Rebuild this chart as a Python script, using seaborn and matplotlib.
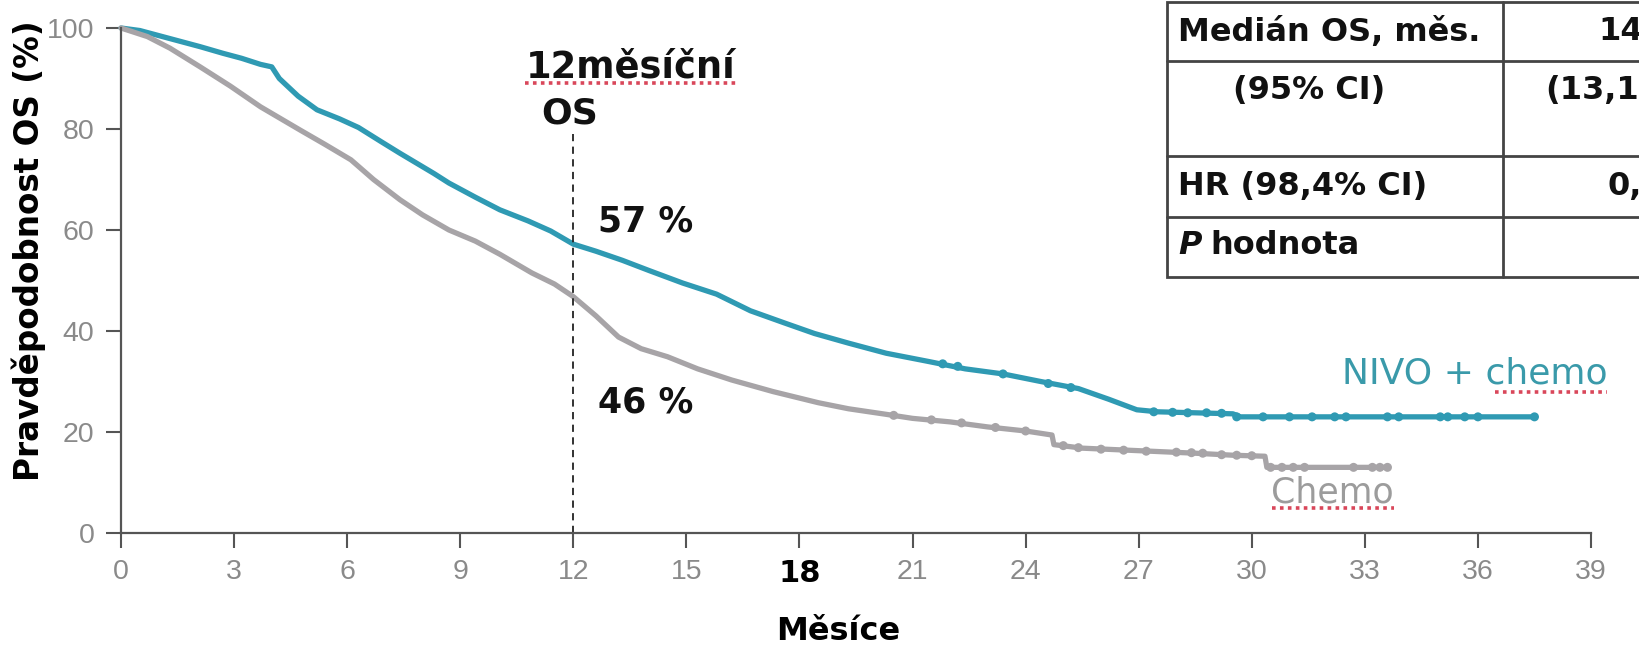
import numpy as np
import pandas as pd
import matplotlib
matplotlib.use("Agg")
import matplotlib.pyplot as plt
import seaborn as sns
from matplotlib.patches import Rectangle

# ---------------- data ----------------
nivo_months = [0, 0.5, 1.0, 1.5, 2.1, 2.7, 3.2, 3.7, 4.0, 4.2, 4.7, 5.2, 5.8, 6.3, 6.9,
               7.4, 8.3, 8.7, 9.4, 10.05, 10.8, 11.4, 12.0, 12.6, 13.3, 14.0, 14.9,
               15.8, 16.7, 17.6, 18.4, 19.3, 20.3, 21.4, 22.4, 23.4, 24.4, 25.4, 26.2,
               26.95, 27.5, 28.5, 29.5, 29.7, 37.5]
nivo_surv = [100, 99.5, 98.5, 97.5, 96.3, 95, 94, 92.8, 92.3, 90.0, 86.5, 83.8, 82, 80.3, 77.5,
             75.2, 71.2, 69.3, 66.5, 64, 61.8, 59.8, 57.2, 55.8, 54, 52, 49.5,
             47.3, 44, 41.6, 39.5, 37.6, 35.6, 34, 32.5, 31.5, 30, 28.6, 26.5,
             24.4, 24.0, 23.8, 23.6, 23.0, 23.0]

chemo_months = [0, 0.7, 1.3, 2.1, 2.9, 3.7, 4.75, 5.4, 6.1, 6.7, 7.4, 8.0, 8.7, 9.4, 10.05,
                10.9, 11.5, 12.0, 12.6, 13.2, 13.8, 14.5, 15.3, 16.2, 17.3, 18.5, 19.3,
                20.3, 21.0, 22.0, 23.0, 24.0, 24.7, 24.75, 25.5, 27.0, 28.5, 29.5, 30.35,
                30.4, 33.6]
chemo_surv = [100, 98.3, 96, 92.3, 88.5, 84.4, 79.8, 77, 73.9, 70, 66, 63, 60, 57.8, 55.2,
              51.5, 49.3, 46.8, 43, 38.8, 36.5, 34.9, 32.5, 30.3, 28, 25.8, 24.6,
              23.5, 22.7, 22.0, 21, 20.2, 19.4, 17.5, 16.8, 16.3, 15.8, 15.4, 15.2,
              13.0, 13.0]

# censoring marks (time, survival) visible on the tails
nivo_cens_t = [21.8, 22.2, 23.4, 24.6, 25.2, 27.4, 27.9, 28.3, 28.8, 29.2, 29.6, 30.3, 31.0,
               31.6, 32.2, 32.5, 33.6, 33.9, 35.0, 35.2, 35.65, 36.0, 37.5]
nivo_cens_v = [33.5, 33.0, 31.5, 29.6, 28.8, 24.0, 23.9, 23.8, 23.8, 23.7, 23.0, 23.0, 23.0,
               23.0, 23.0, 23.0, 23.0, 23.0, 23.0, 23.0, 23.0, 23.0, 23.0]
chemo_cens_t = [20.5, 21.5, 22.3, 23.2, 24.0, 25.0, 25.4, 26.0, 26.6, 27.2, 28.0, 28.4, 28.7,
                29.2, 29.6, 30.0, 30.5, 30.8, 31.1, 31.4, 32.7, 33.2, 33.4, 33.6]
chemo_cens_v = [23.3, 22.4, 21.8, 20.9, 20.2, 17.3, 16.9, 16.6, 16.4, 16.2, 16.0, 15.9, 15.8,
                15.5, 15.4, 15.3, 13.0, 13.0, 13.0, 13.0, 13.0, 13.0, 13.0, 13.0]

arm_names = ["NIVO + chemo", "Chemo"]
x_ticks = list(range(0, 40, 3))
y_ticks = [0, 20, 40, 60, 80, 100]
milestone = 12
milestone_label_top = 79
pct_labels = ["57 %", "46 %"]
table_rows = ["Medián OS, měs.", "(95% CI)", "HR (98,4% CI)", "hodnota"]
table_vals_visible = ["14", "(13,1", "0,"]

TEAL = "#2F9AB3"
GRAY = "#A7A4A7"

# ---------------- style ----------------
sns.set_theme(style="white")
plt.rcParams['font.family'] = ['DejaVu Sans']

fig = plt.figure(figsize=(16.4, 6.45), dpi=100)
W, H = 1640, 645
ax = fig.add_axes([121 / W, 112 / H, 1470 / W, 505 / H])

df = pd.concat([
    pd.DataFrame({"month": nivo_months, "surv": nivo_surv, "arm": arm_names[0]}),
    pd.DataFrame({"month": chemo_months, "surv": chemo_surv, "arm": arm_names[1]}),
])
cens = pd.concat([
    pd.DataFrame({"month": nivo_cens_t, "surv": nivo_cens_v, "arm": arm_names[0]}),
    pd.DataFrame({"month": chemo_cens_t, "surv": chemo_cens_v, "arm": arm_names[1]}),
])
pal = {arm_names[0]: TEAL, arm_names[1]: GRAY}

sns.lineplot(data=df, x="month", y="surv", hue="arm", palette=pal, estimator=None,
             sort=False, linewidth=3.8, legend=False, ax=ax)
for ln in ax.lines:
    ln.set_clip_on(False)
    ln.set_solid_joinstyle("round")
sns.scatterplot(data=cens, x="month", y="surv", hue="arm", palette=pal, marker="o",
                s=42, linewidth=0, legend=False, ax=ax, clip_on=False, zorder=3)

ax.set_xlim(0, 39)
ax.set_ylim(0, 100)
ax.set_xticks(x_ticks)
ax.set_yticks(y_ticks)
for s in ["top", "right"]:
    ax.spines[s].set_visible(False)
for s in ["left", "bottom"]:
    ax.spines[s].set_color("#555555")
    ax.spines[s].set_linewidth(1.6)
ax.tick_params(axis="both", direction="out", length=11, width=1.5, color="#555555",
               labelcolor="#8a8a8a", labelsize=20.5, pad=8, bottom=True, left=True)
for lbl in ax.get_xticklabels() + ax.get_yticklabels():
    lbl.set_fontfamily(['Liberation Sans Narrow', 'Liberation Sans', 'DejaVu Sans'])
lbl18 = ax.get_xticklabels()[x_ticks.index(18)]
lbl18.set_color("black")
lbl18.set_fontweight("bold")
lbl18.set_fontfamily(['DejaVu Sans'])
lbl18.set_fontsize(22)

ax.set_xlabel("Měsíce", fontsize=23, fontweight="bold", color="black", va="center")
ax.xaxis.set_label_coords(0.488, -0.195)
ax.set_ylabel("Pravděpodobnost OS (%)", fontsize=23.5, fontweight="bold", color="black", va="center")
ax.yaxis.set_label_coords(-0.0625, 0.56)

# milestone line and annotations
ax.axvline(milestone, ymin=0, ymax=milestone_label_top / 100, color="#222222",
           linestyle=(0, (4, 3)), linewidth=1.3)
ax.text(10.75, 92.2, "12měsíční", fontsize=26.5, fontweight="bold", color="#111111",
        ha="left", va="center")
ax.text(11.15, 83.0, "OS", fontsize=26, fontweight="bold", color="#111111",
        ha="left", va="center")
ax.text(12.65, 61.6, pct_labels[0], fontsize=25, fontweight="bold", color="#111111",
        ha="left", va="center")
ax.text(12.65, 25.8, pct_labels[1], fontsize=25, fontweight="bold", color="#111111",
        ha="left", va="center")
ax.text(32.4, 31.6, arm_names[0], fontsize=26, color="#3A9AAA", ha="left", va="center")
ax.text(30.5, 8.1, arm_names[1], fontsize=25, color="#9C9C9C", ha="left", va="center")

# overlay in figure pixel coordinates for the table and the red underlines
ov = fig.add_axes([0, 0, 1, 1], zorder=5)
ov.set_xlim(0, W)
ov.set_ylim(H, 0)
ov.axis("off")
ov.patch.set_alpha(0)

red = "#d9475a"
for (x0, x1, y) in [(525, 737, 83), (1495, 1607, 392), (1272, 1394, 508)]:
    ov.plot([x0, x1], [y, y], color=red, linestyle=(0, (1, 1.2)), linewidth=2.6)

tl, tr, tt, tb, tc = 1167, 1700, 2, 277, 1503
ov.add_patch(Rectangle((tl, tt), tr - tl, tb - tt, facecolor="white", edgecolor="#444444",
                       linewidth=2, clip_on=False))
for y in [61, 156, 217]:
    ov.plot([tl, tr], [y, y], color="#444444", linewidth=2, clip_on=False)
ov.plot([tc, tc], [tt, tb], color="#444444", linewidth=2)

tfs = 23
tkw = dict(fontsize=tfs, fontweight="bold", ha="left", va="center", color="#111111")
ov.text(1178, 32, table_rows[0], **tkw)
ov.text(1233, 90, table_rows[1], **tkw)
ov.text(1178, 186, table_rows[2], **tkw)
ov.text(1178, 246, "P", fontstyle="italic", **tkw)
ov.text(1210, 246, table_rows[3], **tkw)
ov.text(1598, 32, table_vals_visible[0], **tkw)
ov.text(1545, 90, table_vals_visible[1], **tkw)
ov.text(1608, 186, table_vals_visible[2], **tkw)

fig.savefig("out.png", dpi=100, facecolor="white")
